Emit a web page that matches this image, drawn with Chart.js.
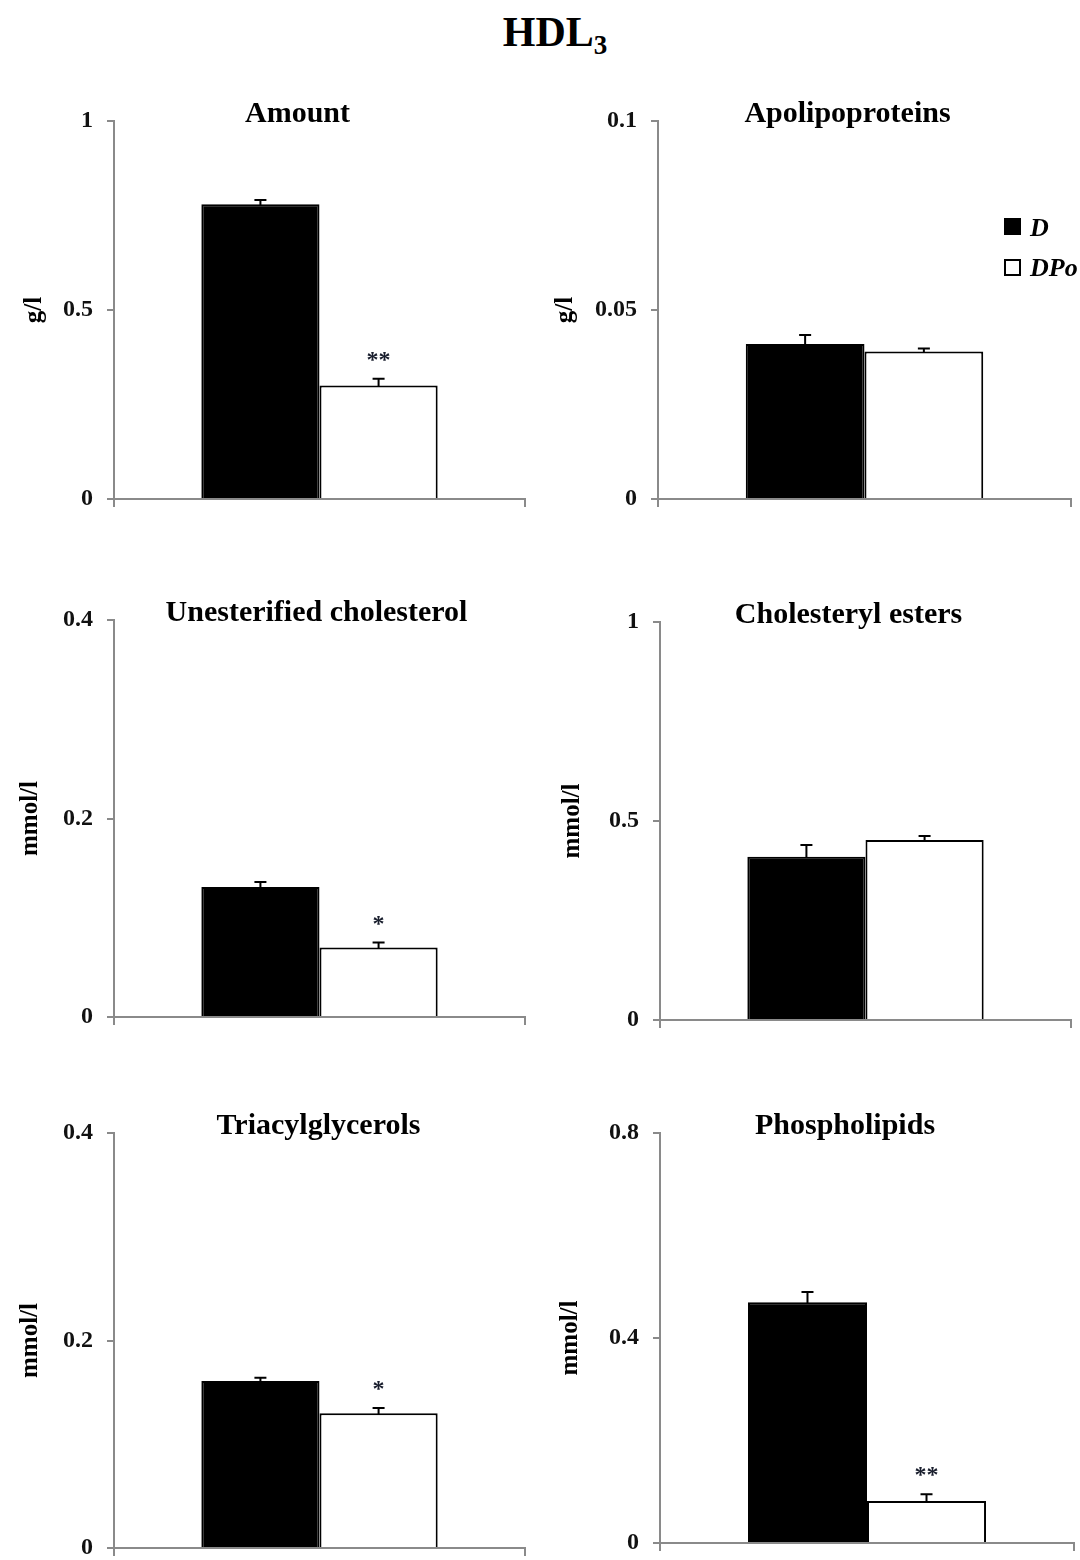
<!DOCTYPE html>
<html><head><meta charset="utf-8">
<script src="https://cdn.jsdelivr.net/npm/chart.js@4.4.0/dist/chart.umd.min.js"></script>
<style>
body{margin:0;background:#fff;width:1080px;height:1560px;position:relative;overflow:hidden;font-family:"Liberation Serif","Times New Roman",serif}
#title{position:absolute;left:0;width:1110px;top:6px;text-align:center;font-weight:bold;font-size:42px;color:#000;line-height:52px}
#title sub{font-size:27px;vertical-align:-8px;line-height:0}
canvas{position:absolute}
</style></head><body>
<div id="title">HDL<sub>3</sub></div>
<script>
// ---------- data ----------
const seriesNames = ['D', 'DPo'];
const panelTitles = ['Amount', 'Apolipoproteins', 'Unesterified cholesterol', 'Cholesteryl esters', 'Triacylglycerols', 'Phospholipids'];
const unitLabels = ['g/l', 'g/l', 'mmol/l', 'mmol/l', 'mmol/l', 'mmol/l'];
const valuesD   = [0.78, 0.041, 0.131, 0.41, 0.161, 0.47];
const valuesDPo = [0.30, 0.039, 0.070, 0.452, 0.130, 0.082];
const errorD    = [0.011, 0.0024, 0.005, 0.03, 0.003, 0.02];
const errorDPo  = [0.018, 0.0008, 0.005, 0.01, 0.005, 0.013];
const marksDPo  = ['**', '', '*', '', '*', '**'];
const yTickValues = [[0, 0.5, 1], [0, 0.05, 0.1], [0, 0.2, 0.4], [0, 0.5, 1], [0, 0.2, 0.4], [0, 0.4, 0.8]];

// ---------- layout (styling only) ----------
const boxes = [
  {cx: 0,   L: 114, R: 525,  T: 121,  B: 499,  dx: -22, tp: 20},
  {cx: 540, L: 658, R: 1071, T: 121,  B: 499,  dx: -17, tp: 11},
  {cx: 0,   L: 114, R: 525,  T: 620,  B: 1017, dx: -3,  tp: 16},
  {cx: 540, L: 660, R: 1071, T: 622,  B: 1020, dx: -17, tp: 18},
  {cx: 0,   L: 114, R: 525,  T: 1133, B: 1548, dx: -1,  tp: 16},
  {cx: 540, L: 660, R: 1074, T: 1133, B: 1543, dx: -22, tp: 16}
];
const SERIF = '"Liberation Serif", "Times New Roman", serif';
const AXIS = '#8a8a8a';
const TOPPAD = 60, XH = 8, BOTPAD = 24;

const errPlugin = {
  id: 'errbars',
  afterDatasetsDraw(chart) {
    const ctx = chart.ctx, ys = chart.scales.y;
    chart.data.datasets.forEach((ds, di) => {
      const meta = chart.getDatasetMeta(di);
      meta.data.forEach((bar, j) => {
        const v = ds.data[j], e = ds.errors[j];
        const x = bar.x;
        const y0 = ys.getPixelForValue(v), y1 = ys.getPixelForValue(v + e);
        ctx.save();
        ctx.strokeStyle = '#000'; ctx.lineWidth = 2;
        ctx.beginPath();
        ctx.moveTo(x, y0 + 1); ctx.lineTo(x, y1);
        ctx.moveTo(x - 6, y1); ctx.lineTo(x + 6, y1);
        ctx.stroke();
        const m = ds.marks ? ds.marks[j] : '';
        if (m) {
          ctx.fillStyle = '#1a1f2e';
          ctx.font = 'bold 24px ' + SERIF;
          ctx.textAlign = 'center'; ctx.textBaseline = 'alphabetic';
          ctx.fillText(m, x, y1 - 12);
        }
        ctx.restore();
      });
    });
  }
};

const titlePlugin = {
  id: 'panelTitle',
  afterDraw(chart, args, opts) {
    const ctx = chart.ctx, a = chart.chartArea;
    ctx.save();
    ctx.fillStyle = '#000';
    ctx.font = 'bold 30px ' + SERIF;
    ctx.textAlign = 'center'; ctx.textBaseline = 'alphabetic';
    ctx.fillText(opts.text, (a.left + a.right) / 2 + opts.dx, a.top + 1);
    ctx.restore();
  }
};

const legendPlugin = {
  id: 'boxLegend',
  afterDraw(chart, args, opts) {
    if (!opts.show) return;
    const ctx = chart.ctx, a = chart.chartArea;
    const x = a.right - 67, y = a.top + 97;
    const ds = chart.data.datasets;
    ctx.save();
    ctx.fillStyle = ds[0].backgroundColor;
    ctx.fillRect(x, y, 17, 17);
    ctx.fillStyle = ds[1].backgroundColor;
    ctx.strokeStyle = '#000'; ctx.lineWidth = 2;
    ctx.fillRect(x + 1, y + 42, 15, 15);
    ctx.strokeRect(x + 1, y + 42, 15, 15);
    ctx.fillStyle = '#000';
    ctx.font = 'italic bold 26px ' + SERIF;
    ctx.textAlign = 'left'; ctx.textBaseline = 'alphabetic';
    ctx.fillText(ds[0].label, x + 26, y + 18);
    ctx.fillText(ds[1].label, x + 26, y + 58);
    ctx.restore();
  }
};

boxes.forEach((b, i) => {
  const cv = document.createElement('canvas');
  const W = 540, H = (b.B - b.T) + TOPPAD + XH + BOTPAD;
  cv.width = W; cv.height = H;
  cv.style.left = b.cx + 'px';
  cv.style.top = (b.T - TOPPAD) + 'px';
  cv.style.width = W + 'px'; cv.style.height = H + 'px';
  document.body.appendChild(cv);
  const ticks = yTickValues[i];
  new Chart(cv, {
    type: 'bar',
    data: {
      labels: [''],
      datasets: [
        {label: seriesNames[0], data: [valuesD[i]], errors: [errorD[i]], marks: [''],
         backgroundColor: '#000', borderColor: '#000', borderWidth: 2},
        {label: seriesNames[1], data: [valuesDPo[i]], errors: [errorDPo[i]], marks: [marksDPo[i]],
         backgroundColor: '#fff', borderColor: '#000', borderWidth: 2}
      ]
    },
    options: {
      responsive: false,
      animation: false,
      devicePixelRatio: 1,
      events: [],
      layout: {padding: {top: TOPPAD, bottom: BOTPAD, left: 0, right: b.cx + W - b.R}},
      datasets: {bar: {categoryPercentage: 0.575, barPercentage: 1.0, borderSkipped: 'bottom'}},
      plugins: {
        legend: {display: false},
        tooltip: {enabled: false},
        panelTitle: {text: panelTitles[i], dx: b.dx},
        boxLegend: {show: i === 1}
      },
      scales: {
        x: {
          type: 'category', offset: true,
          grid: {display: true, drawOnChartArea: false, drawTicks: true, tickLength: 8, offset: true, color: AXIS, lineWidth: 2},
          border: {display: true, color: AXIS, width: 2},
          ticks: {display: false},
          afterFit: s => { s.height = XH; }
        },
        y: {
          min: 0, max: ticks[ticks.length - 1],
          afterBuildTicks: s => { s.ticks = ticks.map(v => ({value: v})); },
          grid: {display: true, drawOnChartArea: false, drawTicks: true, tickLength: 7, color: AXIS, lineWidth: 2},
          border: {display: true, color: AXIS, width: 2},
          ticks: {padding: 14, color: '#111', font: {family: SERIF, size: 24, weight: 'bold'}, callback: v => String(v)},
          title: {display: true, text: unitLabels[i], color: '#000', padding: {top: b.tp, bottom: 0},
                  font: {family: SERIF, size: 25, weight: 'bold'}},
          afterFit: s => { s.width = b.L - b.cx; }
        }
      }
    },
    plugins: [errPlugin, titlePlugin, legendPlugin]
  });
});
</script>
</body></html>
